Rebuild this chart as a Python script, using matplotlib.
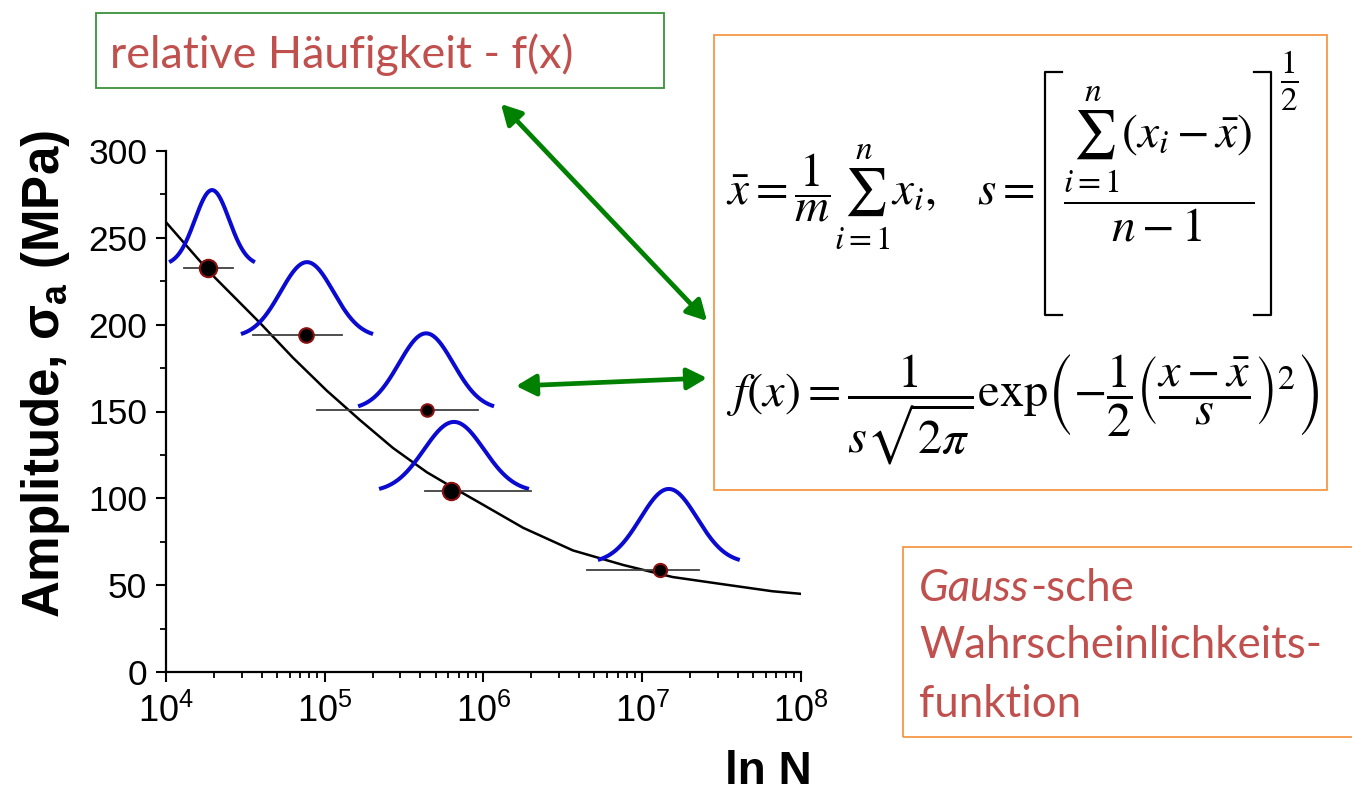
import numpy as np
import matplotlib
matplotlib.use("Agg")
import matplotlib.pyplot as plt
from matplotlib.patches import Rectangle, FancyArrowPatch, ArrowStyle
from matplotlib.lines import Line2D
from matplotlib.ticker import FixedLocator, LogLocator, NullFormatter

plt.rcParams['font.family'] = ['Liberation Sans', 'DejaVu Sans']
plt.rcParams['mathtext.fontset'] = 'custom'
plt.rcParams['mathtext.rm'] = 'Liberation Sans'
plt.rcParams['mathtext.it'] = 'Liberation Sans:italic'
plt.rcParams['mathtext.bf'] = 'Liberation Sans:bold'

# ---------------- data ----------------
curve_N = [1.0e4, 1.89e4, 3.91e4, 6.3e4, 1.03e5, 1.67e5, 2.69e5, 4.4e5,
           6.2e5, 8.6e5, 1.78e6, 3.66e6, 7.6e6, 1.55e7, 3.24e7, 6.6e7, 1.0e8]
curve_S = [259, 230, 201, 181, 162, 145, 129, 115,
           107, 99.6, 83, 70, 61.6, 54.7, 50.5, 46.5, 45]

pt_N = [1.84e4, 7.6e4, 4.4e5, 6.2e5, 1.29e7]
pt_S = [232.6, 194, 151, 104, 58.7]
err_lo = [1.3e4, 3.53e4, 8.9e4, 4.28e5, 4.49e6]
err_hi = [2.64e4, 1.29e5, 9.2e5, 1.99e6, 2.27e7]

bell_center = [1.95e4, 7.73e4, 4.35e5, 6.52e5, 1.47e7]
bell_halfwidth_dec = [0.27, 0.416, 0.428, 0.472, 0.447]
bell_base = [236, 194.6, 153, 105.4, 64.5]
bell_peak = [277.5, 236, 195, 144, 105.4]

y_ticks = [0, 50, 100, 150, 200, 250, 300]
x_tick_exp = [4, 5, 6, 7, 8]

# ---------------- styles ----------------
W, H = 1352, 793
marker_sizes = [12.5, 10.5, 9, 12.5, 9.5]
RED = '#C0504D'
ORANGE = '#F79646'
GREEN_BOX = '#3A923A'
ARROW_GREEN = '#008000'
BLUE = '#0a0ad0'

fig = plt.figure(figsize=(W / 100, H / 100), dpi=100)
r = fig.canvas.get_renderer()


def fx(x):
    return x / W


def fy(y):
    return 1 - y / H


ax = fig.add_axes([fx(166), fy(672), (801 - 166) / W, (672 - 151) / H])
ax.set_xscale('log')
ax.set_xlim(1e4, 1e8)
ax.set_ylim(0, 300)
for s in ['top', 'right']:
    ax.spines[s].set_visible(False)
for s in ['left', 'bottom']:
    ax.spines[s].set_linewidth(1.6)

ax.yaxis.set_major_locator(FixedLocator(y_ticks))
ax.yaxis.set_minor_locator(FixedLocator([v + 25 for v in y_ticks[:-1]]))
ax.set_yticklabels([str(v) for v in y_ticks])
ax.xaxis.set_major_locator(FixedLocator([10.0 ** e for e in x_tick_exp]))
ax.set_xticklabels([r'$\mathregular{10^{%d}}$' % e for e in x_tick_exp])
ax.xaxis.set_minor_locator(LogLocator(base=10, subs=np.arange(2, 10)))
ax.xaxis.set_minor_formatter(NullFormatter())
ax.tick_params(which='major', direction='out', length=7.5, width=1.5)
ax.tick_params(which='minor', direction='out', length=4, width=1.3)
ax.tick_params(axis='y', which='major', labelsize=25.5, pad=6)
ax.tick_params(axis='x', which='major', labelsize=26, pad=8)

# S-N curve
ax.plot(curve_N, curve_S, color='black', lw=1.8, zorder=2)

# Gaussian bells
k = 2.5
g_end = np.exp(-0.5 * k * k)
t = np.linspace(-1, 1, 200)
for c, hw, b, p in zip(bell_center, bell_halfwidth_dec, bell_base, bell_peak):
    g = np.exp(-0.5 * (t * k) ** 2)
    xs = 10 ** (np.log10(c) + t * hw)
    ys = b + (p - b) * (g - g_end) / (1 - g_end)
    ax.plot(xs, ys, color=BLUE, lw=2.9, zorder=3, solid_capstyle='butt')

# scatter lines and points
for lo, hi, s in zip(err_lo, err_hi, pt_S):
    ax.plot([lo, hi], [s, s], color='#404040', lw=1.3, zorder=3.5)
for n, s, ms in zip(pt_N, pt_S, marker_sizes):
    ax.plot([n], [s], 'o', ms=ms, mfc='black', mec='#8B1010', mew=1.5, zorder=4)

# axis labels
ylab = fig.text(fx(45), fy(374), r'Amplitude, σ$_\mathbf{a}$ (MPa)', rotation=90,
                fontweight='bold', fontsize=36, ha='center', va='center')
bb = ylab.get_window_extent(renderer=r)
ylab.set_fontsize(36 * 488 / bb.height)

xlab = fig.text(fx(812), fy(784), 'ln N', fontweight='bold', fontsize=33,
                ha='right', va='baseline')


def fit_width(txt, target):
    bb = txt.get_window_extent(renderer=r)
    txt.set_fontsize(txt.get_fontsize() * target / bb.width)


# boxes
fig.patches.append(Rectangle((fx(96), fy(88)), (664 - 96) / W, (88 - 13) / H,
                             transform=fig.transFigure, fill=False,
                             edgecolor=GREEN_BOX, lw=1.3))
fig.patches.append(Rectangle((fx(714), fy(490)), (1327 - 714) / W, (490 - 35) / H,
                             transform=fig.transFigure, fill=False,
                             edgecolor=ORANGE, lw=1.3))
fig.patches.append(Rectangle((fx(903), fy(737)), (1400 - 903) / W, (737 - 547) / H,
                             transform=fig.transFigure, fill=False,
                             edgecolor=ORANGE, lw=1.3))

# text in green box
t_rel = fig.text(fx(110), fy(68), 'relative Häufigkeit - f(x)', color=RED,
                 family='Lato', fontsize=26, ha='left', va='baseline')
fit_width(t_rel, 462)

# Gauss box text
t_w = fig.text(fx(919), fy(658), 'Wahrscheinlichkeits-', color=RED,
               family='Lato', fontsize=28, ha='left', va='baseline')
fit_width(t_w, 403)
fs_g = t_w.get_fontsize()
t_g = fig.text(fx(919), fy(601), 'Gauss', color=RED, family='Lato',
               style='italic', fontsize=fs_g, ha='left', va='baseline')
wg = t_g.get_window_extent(renderer=r).width
fig.text(fx(919 + wg + 1), fy(601), '-sche', color=RED, family='Lato',
         fontsize=fs_g, ha='left', va='baseline')
fig.text(fx(919), fy(717), 'funktion', color=RED, family='Lato',
         fontsize=fs_g, ha='left', va='baseline')

# formulas
fA = fig.text(fx(726), fy(205),
              r'$\bar{x} = \dfrac{1}{m}\sum_{i=1}^{n}x_i,\quad s =$',
              math_fontfamily='stix', fontsize=30, ha='left', va='baseline')
fit_width(fA, 1035 - 726)
fB = fig.text(fx(1063), fy(85),
              r'$\dfrac{\sum_{i=1}^{n}\left(x_i-\bar{x}\right)}{n-1}$',
              math_fontfamily='stix', fontsize=30, ha='left', va='top')
fit_width(fB, 1255 - 1063)
fig.text(fx(1289), fy(48), r'$\frac{1}{2}$', math_fontfamily='stix',
         fontsize=34, ha='center', va='top')
# brackets
for xs_, ys_ in [([1062, 1045, 1045, 1062], [72, 72, 315, 315]),
                 ([1254, 1271, 1271, 1254], [72, 72, 315, 315])]:
    fig.lines.append(Line2D([fx(v) for v in xs_], [fy(v) for v in ys_],
                            transform=fig.transFigure, color='black', lw=1.6))

fC = fig.text(fx(726), fy(410),
              r'$f\left(x\right) = \dfrac{1}{s\sqrt{2\pi}}\mathrm{exp}\left(-\dfrac{1}{2}\left(\dfrac{x-\bar{x}}{s}\right)^{2}\right)$',
              math_fontfamily='stix', fontsize=30, ha='left', va='center')
fit_width(fC, 1318 - 726)

# arrows
for (x0, y0), (x1, y1) in [((501, 104), (707, 321)), ((516, 386), (707, 378))]:
    arr = FancyArrowPatch((fx(x0), fy(y0)), (fx(x1), fy(y1)),
                          transform=fig.transFigure,
                          arrowstyle=ArrowStyle('<|-|>', head_length=12, head_width=6.5),
                          color=ARROW_GREEN, lw=3.4, shrinkA=0, shrinkB=0,
                          mutation_scale=1)
    fig.patches.append(arr)

fig.savefig('out.png', dpi=100)
